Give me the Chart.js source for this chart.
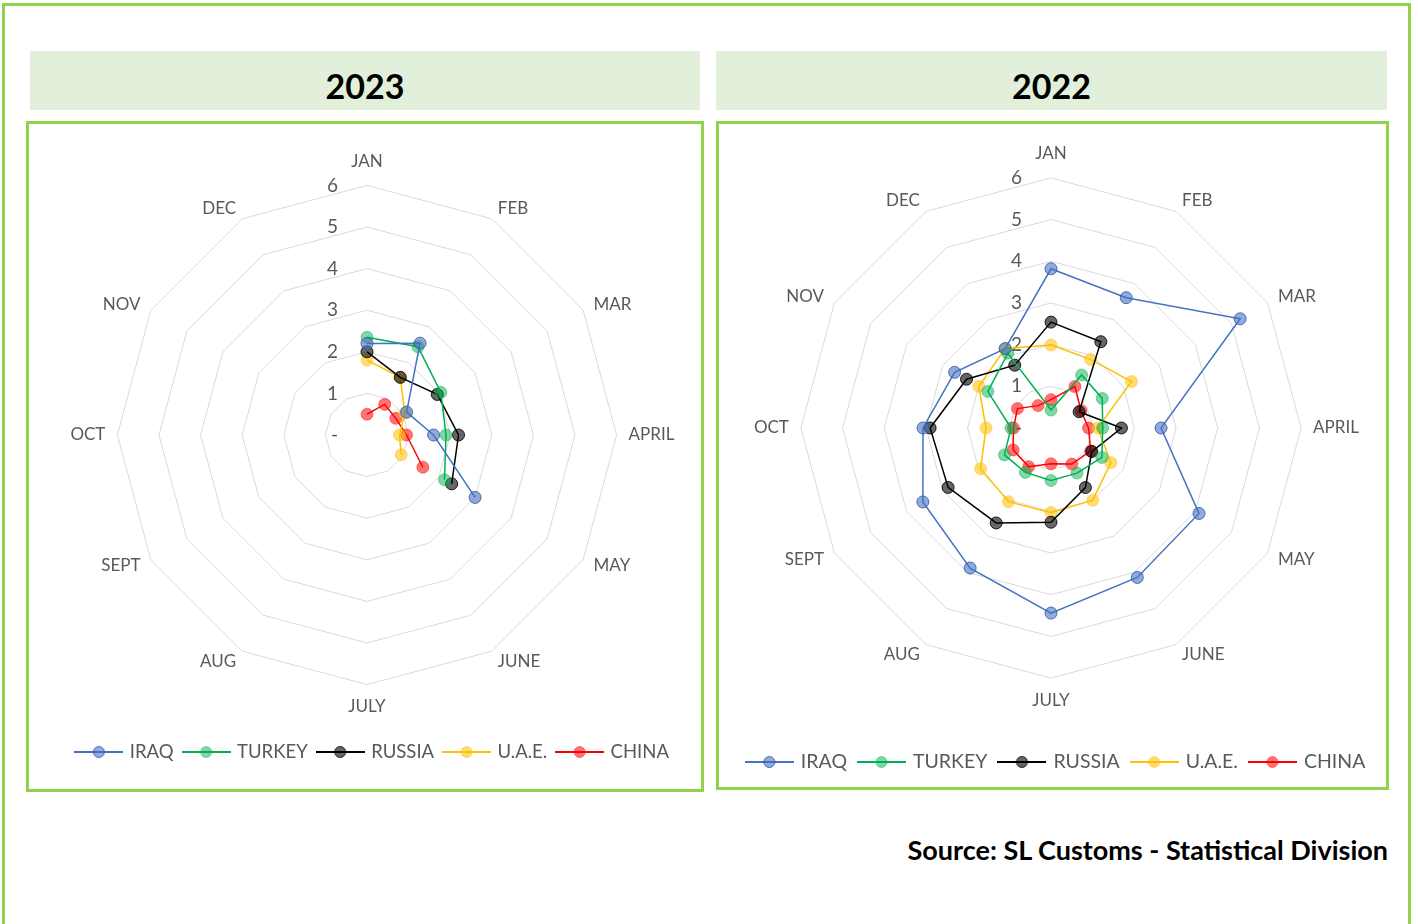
<!DOCTYPE html>
<html><head><meta charset="utf-8">
<script src="https://cdn.jsdelivr.net/npm/chart.js@4"></script>
<style>
body{margin:0;background:#fff;width:1418px;height:924px;overflow:hidden;position:relative;font-family:Lato,sans-serif}
#outer{position:absolute;left:2px;top:3px;width:1403px;height:950px;border:3px solid #92D050;}
.tbar{position:absolute;top:51px;height:59px;background:#E2EFDA;text-align:center;font-weight:bold;font-size:34px;font-family:Lato,sans-serif;line-height:70px;color:#000}
.box{position:absolute;top:121px;border:3px solid #92D050;background:#fff}
.box canvas{display:block}
#src{position:absolute;right:30px;top:835px;font-weight:bold;font-size:27px;font-family:Lato,sans-serif;line-height:30px;color:#000;white-space:nowrap}
</style>
</head><body>
<div id="outer"></div>
<div class="tbar" style="left:30px;width:670px">2023</div>
<div class="tbar" style="left:716px;width:671px">2022</div>
<div class="box" style="left:26px;width:672px;height:665px"><canvas id="c1" width="672" height="665"></canvas></div>
<div class="box" style="left:716px;width:667px;height:663px"><canvas id="c2" width="667" height="663"></canvas></div>
<div id="src">Source: SL Customs - Statistical Division</div>
<script>
const months = ['JAN','FEB','MAR','APRIL','MAY','JUNE','JULY','AUG','SEPT','OCT','NOV','DEC'];
const countries = ['IRAQ','TURKEY','RUSSIA','U.A.E.','CHINA'];
const tickValues = [0,1,2,3,4,5,6];

const iraq2023   = [2.2, 2.55, 1.1, 1.6, 3.0, null, null, null, null, null, null, null];
const turkey2023 = [2.35, 2.45, 2.05, 1.9, 2.15, null, null, null, null, null, null, null];
const russia2023 = [2.0, 1.6, 1.95, 2.2, 2.35, null, null, null, null, null, null, null];
const uae2023    = [1.8, 1.6, 1.05, 0.78, 0.95, null, null, null, null, null, null, null];
const china2023  = [0.5, 0.85, 0.8, 0.95, 1.55, null, null, null, null, null, null, null];

const iraq2022   = [3.82, 3.61, 5.24, 2.64, 4.1, 4.14, 4.44, 3.88, 3.55, 3.07, 2.67, 2.2];
const turkey2022 = [0.43, 1.47, 1.42, 1.24, 1.41, 1.25, 1.26, 1.23, 1.29, 0.96, 1.75, 2.07];
const russia2022 = [2.54, 2.39, 0.78, 1.69, 1.13, 1.65, 2.26, 2.63, 2.85, 2.9, 2.34, 1.74];
const uae2022    = [1.99, 1.9, 2.23, 1.12, 1.66, 2.0, 2.03, 2.04, 1.95, 1.56, 2.0, 2.2];
const china2022  = [0.68, 1.15, 0.83, 0.9, 1.1, 1.0, 0.86, 1.07, 1.05, 0.9, 0.93, 0.62];

const lineColors = ['#4472C4','#00B050','#000000','#FFC000','#FF0000'];
const markFill = ['rgba(68,114,196,0.6)','rgba(0,176,80,0.5)','rgba(0,0,0,0.6)','rgba(255,192,0,0.55)','rgba(255,0,0,0.55)'];
const markLine = ['rgba(47,85,151,0.8)','rgba(0,176,80,0.45)','rgba(0,0,0,0.85)','rgba(255,192,0,0.5)','rgba(255,0,0,0.45)'];

function legendImg(i){
  const c=document.createElement('canvas'); c.width=49; c.height=14;
  const x=c.getContext('2d');
  x.strokeStyle=lineColors[i]; x.lineWidth=2;
  x.beginPath(); x.moveTo(0,7); x.lineTo(49,7); x.stroke();
  x.beginPath(); x.arc(24.5,7,5.5,0,Math.PI*2); x.fillStyle=markFill[i]; x.fill();
  x.lineWidth=1; x.strokeStyle=markLine[i]; x.stroke();
  return c;
}
const legendImgs = countries.map((_,i)=>legendImg(i));

const tickPlugin = {
  id:'tickLabels',
  beforeDraw(chart){
    // centre the month labels vertically on their anchor, as in the reference
    const s=chart.scales.r;
    const items=s._pointLabelItems||[];
    const h=17*1.2;
    items.forEach((it,i)=>{
      if(it._shifted) return;
      let dy=0;
      if([1,2,10,11].includes(i)) dy=h/2;
      else if([4,5,7,8].includes(i)) dy=-h/2;
      else if(i===0) dy=-2;
      it.y+=dy; it.top+=dy; it.bottom+=dy; it._shifted=true;
    });
  },
  beforeDatasetsDraw(chart){
    const s=chart.scales.r, ctx=chart.ctx;
    ctx.save();
    ctx.font='19px Lato'; ctx.fillStyle='#595959';
    ctx.textAlign='right'; ctx.textBaseline='middle';
    tickValues.forEach(v=>{
      const d=s.getDistanceFromCenterForValue(v);
      ctx.fillText(v===0?'-':String(v), s.xCenter-29, s.yCenter-d);
    });
    ctx.restore();
  }
};

function makeChart(id, series, pad, titlePad, legFont, legPad){
  const datasets = series.map((data,i)=>({
    label: countries[i], data,
    borderColor: lineColors[i], borderWidth: 1.5,
    pointBackgroundColor: markFill[i], pointBorderColor: markLine[i],
    pointBorderWidth: 1, pointRadius: 6, fill:false, spanGaps:false
  }));
  return new Chart(document.getElementById(id), {
    type:'radar',
    data:{labels:months, datasets},
    plugins:[tickPlugin],
    options:{
      responsive:false, animation:false, devicePixelRatio:1,
      layout:{padding:pad},
      scales:{r:{
        min:0, max:6,
        ticks:{display:false, stepSize:1},
        grid:{color:'#D9D9D9', lineWidth:1},
        angleLines:{display:false},
        pointLabels:{font:{family:'Lato', size:17}, color:'#595959', padding:12}
      }},
      plugins:{
        tooltip:{enabled:false},
        legend:{
          position:'bottom',
          title:{display:true, text:' ', font:{size:1}, padding:{top:titlePad, bottom:0}},
          labels:{
            usePointStyle:true, pointStyleWidth:43.5, padding:legPad,
            font:{family:'Lato', size:legFont}, color:'#595959',
            generateLabels(chart){
              const items = Chart.defaults.plugins.legend.labels.generateLabels(chart);
              items.forEach((it,i)=>{ it.pointStyle = legendImgs[i]; });
              return items;
            }
          }
        }
      }
    }
  });
}

makeChart('c1', [iraq2023, turkey2023, russia2023, uae2023, china2023], {top:29, bottom:17.75, left:16, right:0}, 12.8, 18.5, 10.75);
makeChart('c2', [iraq2022, turkey2022, russia2022, uae2022, china2022], {top:21.5, bottom:5.25, left:8, right:0}, 26.8, 19.5, 12.75);
</script>
</body></html>
